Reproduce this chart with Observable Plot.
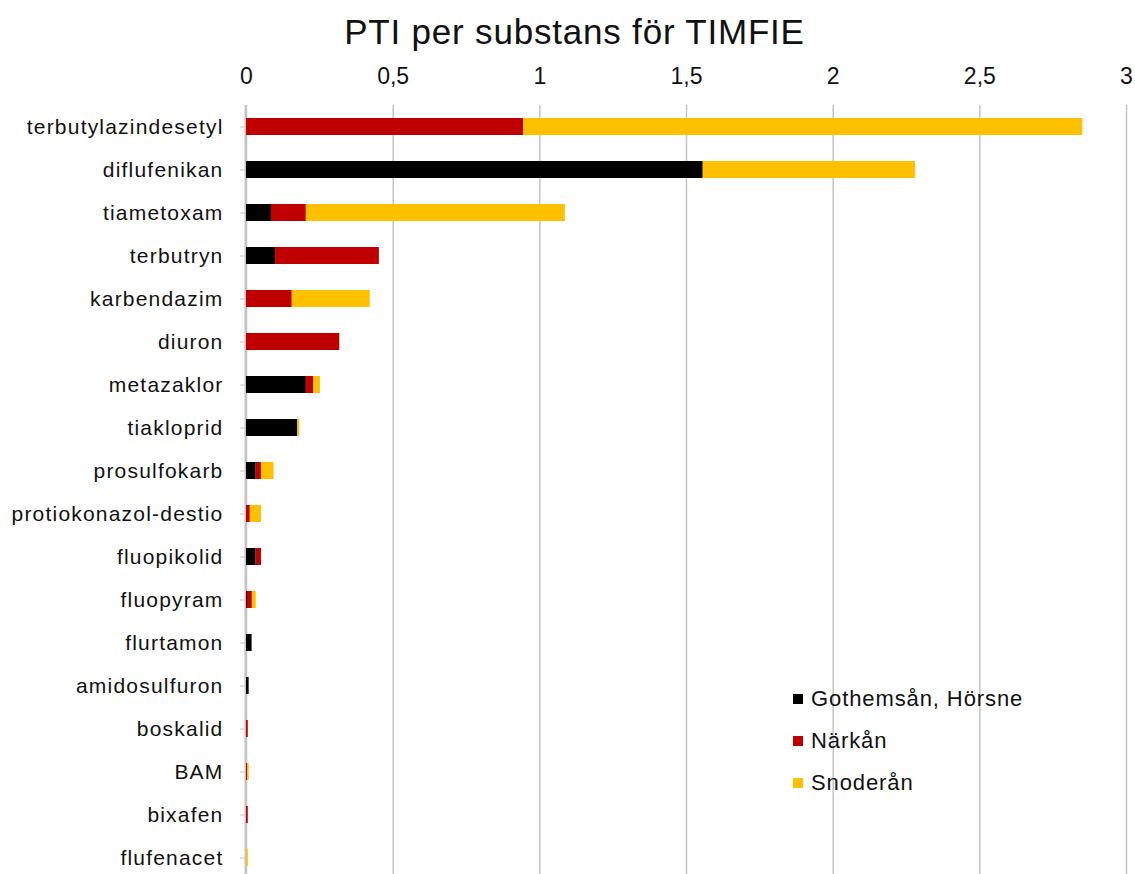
<!DOCTYPE html>
<html>
<head>
<meta charset="utf-8">
<script src="https://cdn.jsdelivr.net/npm/d3@7"></script>
<script src="https://cdn.jsdelivr.net/npm/@observablehq/plot@0.6"></script>
<style>
  html, body { margin: 0; padding: 0; background: #fff; overflow: hidden; }
  body { width: 1135px; height: 874px; position: relative; font-family: "Liberation Sans", Arial, sans-serif; }
  #title { height: 42px; padding-top: 14px; line-height: 35px; font-size: 35px; text-align: center; color: #111; padding-left: 14px; letter-spacing: 0.8px; }
  #chart svg { display: block; overflow: visible; }
  #chart g[aria-label="y-axis tick label"] text { letter-spacing: 1.2px; }
  #legend { position: absolute; left: 793px; top: 678px; font-size: 22px; color: #111; }
  #legend .row { height: 42px; line-height: 30px; display: flex; align-items: center; white-space: nowrap; letter-spacing: 0.9px; }
  #legend .sw { width: 10px; height: 10px; margin-right: 8px; }
</style>
</head>
<body>
<div id="title">PTI per substans för TIMFIE</div>
<div id="chart"></div>
<div id="legend"></div>
<script>
const substances = ["terbutylazindesetyl", "diflufenikan", "tiametoxam", "terbutryn", "karbendazim", "diuron", "metazaklor", "tiakloprid", "prosulfokarb", "protiokonazol-destio", "fluopikolid", "fluopyram", "flurtamon", "amidosulfuron", "boskalid", "BAM", "bixafen", "flufenacet"];
const seriesNames = ["Gothemsån, Hörsne", "Närkån", "Snoderån"];
const seriesColors = ["#000000", "#C00000", "#FFC000"];
const gothemsan = [0, 1.557, 0.085, 0.099, 0, 0, 0.204, 0.175, 0.033, 0, 0.033, 0.003, 0.019, 0.009, 0, 0, 0, 0];
const narkan   = [0.945, 0, 0.119, 0.354, 0.156, 0.318, 0.025, 0, 0.018, 0.013, 0.018, 0.017, 0, 0, 0.006, 0.004, 0.006, 0];
const snoderan = [1.906, 0.724, 0.883, 0, 0.266, 0, 0.023, 0.007, 0.043, 0.038, 0, 0.013, 0, 0, 0, 0.005, 0, 0.006];
const xTicks = [0, 0.5, 1, 1.5, 2, 2.5, 3];

const seriesValues = [gothemsan, narkan, snoderan];
const data = [];
substances.forEach((s, i) => {
  seriesNames.forEach((n, j) => {
    data.push({substance: s, series: n, value: seriesValues[j][i]});
  });
});

const chart = Plot.plot({
  width: 1135,
  height: 823,
  marginTop: 49,
  marginBottom: 0,
  marginLeft: 246,
  marginRight: 9,
  style: {fontFamily: "'Liberation Sans', Arial, sans-serif", fontSize: "21px", color: "#111", background: "transparent"},
  x: {domain: [0, 3]},
  y: {domain: substances, paddingInner: 0.6, paddingOuter: 0.2877},
  color: {domain: seriesNames, range: seriesColors},
  marks: [
    Plot.gridX(xTicks, {stroke: "#c4c4c4", strokeOpacity: 1, strokeWidth: 1.5}),
    Plot.ruleX([0], {stroke: "#c4c4c4", strokeWidth: 2, dx: -1}),
    Plot.barX(data, {x: "value", y: "substance", fill: "series", order: seriesNames}),
    Plot.axisX({anchor: "top", ticks: xTicks, tickSize: 0, tickPadding: 22, fontSize: 23, tickFormat: d => String(d).replace(".", ","), label: null}),
    Plot.axisY({anchor: "left", tickSize: 5, tickPadding: 17, stroke: "#c4c4c4", label: null, dx: -1})
  ]
});
document.getElementById("chart").appendChild(chart);

const legend = document.getElementById("legend");
seriesNames.forEach((n, j) => {
  const row = document.createElement("div");
  row.className = "row";
  const sw = document.createElement("div");
  sw.className = "sw";
  sw.style.background = seriesColors[j];
  const t = document.createElement("span");
  t.textContent = n;
  row.appendChild(sw);
  row.appendChild(t);
  legend.appendChild(row);
});
</script>
</body>
</html>
